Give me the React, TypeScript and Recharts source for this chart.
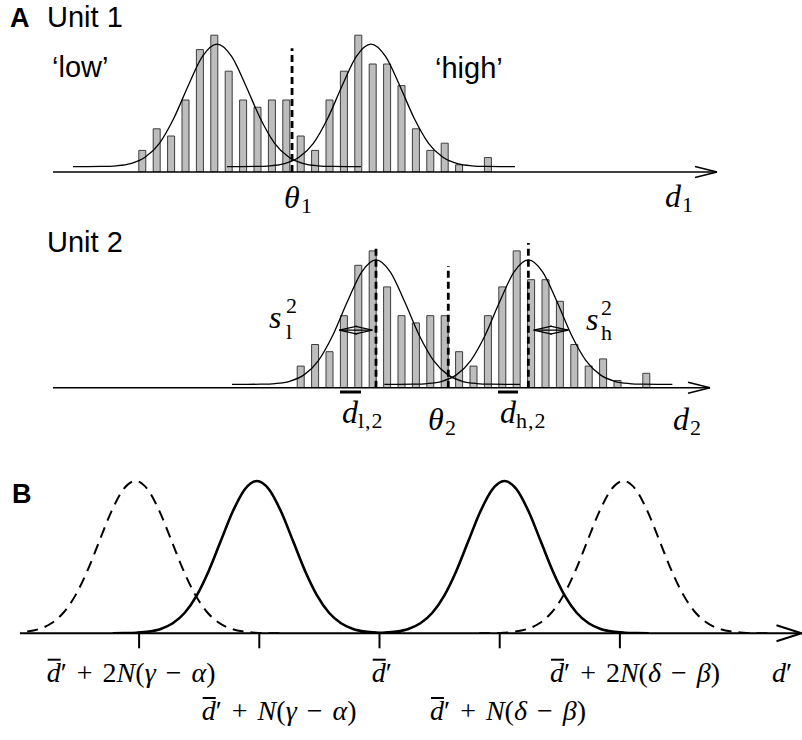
import React from 'react';
import { ComposedChart, Bar, Line, XAxis, YAxis, ReferenceLine } from 'recharts';

// Panel A: response histograms (count per bin), unit 2 is the same set shifted by 11 bins
const unit1Counts = [3, 6, 5, 10, 17, 19, 14, 10, 9, 10, 10, 5, 3, 10, 14, 19, 15, 15, 12, 6, 3, 4, 1, 0, 2];
const unit2Counts = [3, 6, 5, 10, 17, 19, 14, 10, 9, 10, 10, 5, 3, 10, 14, 19, 15, 15, 12, 6, 3, 4, 1, 0, 2];
const unit1FirstBin = 0;
const unit2FirstBin = 11;

// fitted gaussians, read one bin apart around each centre
const fitOffsets = [-10, -9, -8, -7, -6, -5, -4, -3, -2, -1, 0, 1, 2, 3, 4, 5, 6, 7, 8, 9, 10];
const unit1Fit = [0.75, 0.75, 0.77, 0.86, 1.16, 2.04, 3.99, 7.47, 11.99, 16.08, 17.75, 16.08, 11.99, 7.47, 3.99, 2.04, 1.16, 0.86, 0.77, 0.75, 0.75];
const unit2Fit = [0.47, 0.47, 0.49, 0.58, 0.89, 1.78, 3.77, 7.29, 11.89, 16.05, 17.74, 16.05, 11.89, 7.29, 3.77, 1.78, 0.89, 0.58, 0.49, 0.47, 0.47];
const unit1FitCentres = [5.21, 15.9];
const unit2FitCentres = [16.25, 26.83];

const unit1Threshold = 10.42;
const unit2Threshold = 21.27;
const unit2Means = [16.25, 26.83];
const unit2Spreads = [[13.7, 16.0], [27.2, 29.6]];

// Panel B: predicted d' distributions
const bTicks = [-2, -1, 0, 1, 2];
const bTickLabels = [' + 2N(γ − α)', ' + N(γ − α)', '', ' + N(δ − β)', ' + 2N(δ − β)'];
const bOffsets = [-1.2, -1.1, -1.0, -0.9, -0.8, -0.7, -0.6, -0.5, -0.4, -0.3, -0.2, -0.1, 0, 0.1, 0.2, 0.3, 0.4, 0.5, 0.6, 0.7, 0.8, 0.9, 1.0, 1.1, 1.2];
const bProfile = [0.0003, 0.0012, 0.0039, 0.0111, 0.0286, 0.0657, 0.135, 0.249, 0.411, 0.607, 0.801, 0.946, 1, 0.946, 0.801, 0.607, 0.411, 0.249, 0.135, 0.0657, 0.0286, 0.0111, 0.0039, 0.0012, 0.0003];
const bSolidCentres = [-1.02, 1.04];
const bDashedCentres = [-2.03, 2.03];

// ---- layout ----
const W = 802;
const SERIF = '"Liberation Serif", "DejaVu Serif", serif';
const SANS = '"Liberation Sans", Arial, sans-serif';
const BIN0_PX = 142;
const BIN_PX = 14.4;
const COUNT_PX = 7.2;
const aDomain: [number, number] = [-BIN0_PX / BIN_PX, (W - BIN0_PX) / BIN_PX];
const aAxisStart = (53 - BIN0_PX) / BIN_PX;

const B_ZERO_PX = 379.5;
const B_UNIT_PX = 120.2;
const B_LEFT = 20;
const bDomain: [number, number] = [(B_LEFT - B_ZERO_PX) / B_UNIT_PX, (W - B_ZERO_PX) / B_UNIT_PX];
const bLabelLayout = [
  { dx: -92.4, row: 0 },
  { dx: -57.6, row: 1 },
  { dx: -7.8, row: 0 },
  { dx: -69.7, row: 1 },
  { dx: -69.9, row: 0 },
];
const B_ROW_BASE = [33.4, 71.7];

type Pt = { x: number; y: number };

function seg(a: Pt, b: Pt, key: string, extra: any = {}) {
  return (
    <ReferenceLine
      key={key}
      segment={[a, b]}
      stroke="#000"
      strokeWidth={1.4}
      ifOverflow="visible"
      {...extra}
    />
  );
}

// open arrow head pointing right at tipX (A panels, data units)
function aArrow(tipX: number, key: string) {
  const dx = 22 / BIN_PX;
  const dy = 5.5 / COUNT_PX;
  return [
    seg({ x: tipX - dx, y: dy }, { x: tipX, y: 0 }, key + 'u'),
    seg({ x: tipX - dx, y: -dy }, { x: tipX, y: 0 }, key + 'd'),
  ];
}

// double arrow showing a spread
function spreadArrow(x1: number, x2: number, y: number, key: string) {
  const arm = 18 / BIN_PX;
  const dy = 4 / COUNT_PX;
  const s = { strokeWidth: 1.1 };
  return [
    seg({ x: x1, y }, { x: x2, y }, key + 'm', s),
    seg({ x: x1, y }, { x: x1 + arm, y: y + dy }, key + 'a', s),
    seg({ x: x1, y }, { x: x1 + arm, y: y - dy }, key + 'b', s),
    seg({ x: x2, y }, { x: x2 - arm, y: y + dy }, key + 'c', s),
    seg({ x: x2, y }, { x: x2 - arm, y: y - dy }, key + 'd', s),
  ];
}

function dashedMark(x: number, top: number, key: string) {
  return seg({ x, y: 0 }, { x, y: top }, key, { strokeWidth: 2.8, strokeDasharray: '7 4' });
}

function HistPanel(props: {
  counts: number[];
  firstBin: number;
  fit: number[];
  fitCentres: number[];
  height: number;
  axisY: number;
  yMax: number;
  axisTip: number;
  extras: React.ReactNode[];
}) {
  const { counts, firstBin, fit, fitCentres, height, axisY, yMax, axisTip, extras } = props;
  const data = counts.map((c, i) => ({ bin: firstBin + i, count: c }));
  const margin = { top: axisY - yMax * COUNT_PX, right: 0, bottom: height - axisY, left: 0 };
  const layer: React.CSSProperties = { position: 'absolute', left: 0, top: 0 };
  // bars and fitted curves sit in two stacked charts with the same scales,
  // so the bar width is not squeezed by the curve sample spacing
  return (
    <div style={{ position: 'relative', width: W, height }}>
      <div style={layer}>
        <ComposedChart width={W} height={height} data={data} margin={margin}>
          <XAxis type="number" dataKey="bin" domain={aDomain} allowDataOverflow hide />
          <YAxis type="number" domain={[0, yMax]} allowDataOverflow hide />
          <Bar dataKey="count" barSize={7} fill="#bdbdbd" stroke="#3c3c3c" strokeWidth={1} isAnimationActive={false} />
          {seg({ x: aAxisStart, y: 0 }, { x: axisTip, y: 0 }, 'axis', { strokeWidth: 1.6 })}
          {aArrow(axisTip, 'arr')}
        </ComposedChart>
      </div>
      <div style={layer}>
        <ComposedChart width={W} height={height} margin={margin}>
          <XAxis type="number" dataKey="bin" domain={aDomain} allowDataOverflow hide />
          <YAxis type="number" domain={[0, yMax]} allowDataOverflow hide />
          {fitCentres.map((c, j) => (
            <Line
              key={'fit' + j}
              data={fitOffsets.map((o, i) => ({ bin: c + o, fit: fit[i] }))}
              dataKey="fit"
              type="monotone"
              stroke="#000"
              strokeWidth={1.3}
              dot={false}
              activeDot={false}
              isAnimationActive={false}
            />
          ))}
          {extras}
        </ComposedChart>
      </div>
    </div>
  );
}

function BTick(props: any) {
  const { x, y, payload } = props;
  const i = bTicks.indexOf(Number(payload.value));
  if (i < 0) return null;
  const lay = bLabelLayout[i];
  const x0 = x + lay.dx;
  const yb = y + B_ROW_BASE[lay.row];
  const chars = Array.from(bTickLabels[i]);
  return (
    <g>
      <line x1={x0 + 1} x2={x0 + 14} y1={yb - 22} y2={yb - 22} stroke="#000" strokeWidth={2} />
      <text x={x0} y={yb} fontFamily={SERIF} fontSize={28} fill="#000" wordSpacing={3} style={{ whiteSpace: 'pre' }}>
        <tspan fontStyle="italic">d</tspan>
        <tspan>′</tspan>
        {chars.map((ch, k) => (
          <tspan key={k} fontStyle={/[A-Za-zγαδβ]/.test(ch) ? 'italic' : 'normal'}>
            {ch}
          </tspan>
        ))}
      </text>
    </g>
  );
}

function bCurve(c: number, dashed: boolean, key: string) {
  return (
    <Line
      key={key}
      data={bOffsets.map((o, i) => ({ t: c + o, v: bProfile[i] }))}
      dataKey="v"
      type="monotone"
      stroke="#000"
      strokeWidth={dashed ? 2 : 2.6}
      strokeDasharray={dashed ? '11 7' : undefined}
      dot={false}
      activeDot={false}
      isAnimationActive={false}
    />
  );
}

function PanelB() {
  const height = 290;
  const axisY = 183.3;
  const yMax = 1.1;
  const unitPx = 152.3;
  const tip = (801.5 - B_ZERO_PX) / B_UNIT_PX;
  const adx = 25 / B_UNIT_PX;
  const ady = 8 / unitPx;
  return (
    <ComposedChart width={W} height={height} margin={{ top: axisY - yMax * unitPx, right: 0, bottom: 0, left: B_LEFT }}>
      <XAxis
        type="number"
        dataKey="t"
        domain={bDomain}
        allowDataOverflow
        ticks={bTicks}
        interval={0}
        height={height - axisY}
        tickSize={15}
        tickMargin={0}
        axisLine={{ stroke: '#000', strokeWidth: 2 }}
        tickLine={{ stroke: '#000', strokeWidth: 2 }}
        tick={(p: any) => <BTick {...p} />}
      />
      <YAxis type="number" domain={[0, yMax]} allowDataOverflow hide />
      {bDashedCentres.map((c, j) => bCurve(c, true, 'dash' + j))}
      {bSolidCentres.map((c, j) => bCurve(c, false, 'solid' + j))}
      {seg({ x: tip - adx, y: ady }, { x: tip, y: 0 }, 'bu', { strokeWidth: 2 })}
      {seg({ x: tip - adx, y: -ady }, { x: tip, y: 0 }, 'bd', { strokeWidth: 2 })}
    </ComposedChart>
  );
}

function Sub(props: { x: number; y: number; main: string; sub: string; sup?: string; dySub?: number; dySup?: number; subDx?: number }) {
  const { x, y, main, sub, sup, dySub = 5, dySup = -15, subDx = 17 } = props;
  return (
    <g fontFamily={SERIF} fill="#000">
      <text x={x} y={y} fontSize={32} fontStyle="italic">{main}</text>
      {sup && <text x={x + subDx} y={y + dySup} fontSize={22}>{sup}</text>}
      <text x={x + subDx} y={y + dySub} fontSize={22} letterSpacing={1}>{sub}</text>
    </g>
  );
}

function Overlay() {
  return (
    <svg width={W} height={740} style={{ position: 'absolute', left: 0, top: 0, pointerEvents: 'none' }}>
      <g fontFamily={SANS} fill="#000">
        <text x={10} y={27} fontSize={27} fontWeight="bold">A</text>
        <text x={47} y={27} fontSize={29}>Unit 1</text>
        <text x={52} y={77} fontSize={29}>‘low’</text>
        <text x={435} y={78} fontSize={29}>‘high’</text>
        <text x={47} y={252} fontSize={29}>Unit 2</text>
        <text x={12} y={503} fontSize={27} fontWeight="bold">B</text>
      </g>
      <Sub x={284} y={208} main="θ" sub="1" />
      <Sub x={665} y={207} main="d" sub="1" />
      <Sub x={269} y={328} main="s" sub="l" sup="2" dySub={11} />
      <Sub x={586} y={330} main="s" sub="h" sup="2" dySub={10} subDx={15} />
      <Sub x={342} y={423} main="d" sub="l,2" subDx={16} />
      <Sub x={428} y={430} main="θ" sub="2" />
      <Sub x={500} y={423} main="d" sub="h,2" subDx={16} />
      <Sub x={673} y={430} main="d" sub="2" />
      <line x1={340} x2={361} y1={392} y2={392} stroke="#000" strokeWidth={3} />
      <line x1={498} x2={518} y1={392} y2={392} stroke="#000" strokeWidth={3} />
      <text x={772} y={682} fontFamily={SERIF} fontSize={28} fill="#000">
        <tspan fontStyle="italic">d</tspan>
        <tspan>′</tspan>
      </text>
    </svg>
  );
}

export default function App() {
  const unit1Extras = [dashedMark(unit1Threshold, 17.2, 'th1')];
  const unit2Extras = [
    dashedMark(unit2Means[0], 19.8, 'm1'),
    dashedMark(unit2Threshold, 16.9, 'th2'),
    dashedMark(unit2Means[1], 20.1, 'm2'),
    ...spreadArrow(unit2Spreads[0][0], unit2Spreads[0][1], 8.0, 'sl'),
    ...spreadArrow(unit2Spreads[1][0], unit2Spreads[1][1], 8.0, 'sh'),
  ];
  return (
    <div style={{ position: 'absolute', left: 0, top: 0, width: W, height: 740, background: '#fff' }}>
      <div style={{ position: 'absolute', left: 0, top: 0 }}>
        <HistPanel
          counts={unit1Counts}
          firstBin={unit1FirstBin}
          fit={unit1Fit}
          fitCentres={unit1FitCentres}
          height={230}
          axisY={172}
          yMax={23.5}
          axisTip={(717 - BIN0_PX) / BIN_PX}
          extras={unit1Extras}
        />
      </div>
      <div style={{ position: 'absolute', left: 0, top: 230 }}>
        <HistPanel
          counts={unit2Counts}
          firstBin={unit2FirstBin}
          fit={unit2Fit}
          fitCentres={unit2FitCentres}
          height={220}
          axisY={157.7}
          yMax={21}
          axisTip={(710 - BIN0_PX) / BIN_PX}
          extras={unit2Extras}
        />
      </div>
      <div style={{ position: 'absolute', left: 0, top: 450 }}>
        <PanelB />
      </div>
      <Overlay />
    </div>
  );
}
